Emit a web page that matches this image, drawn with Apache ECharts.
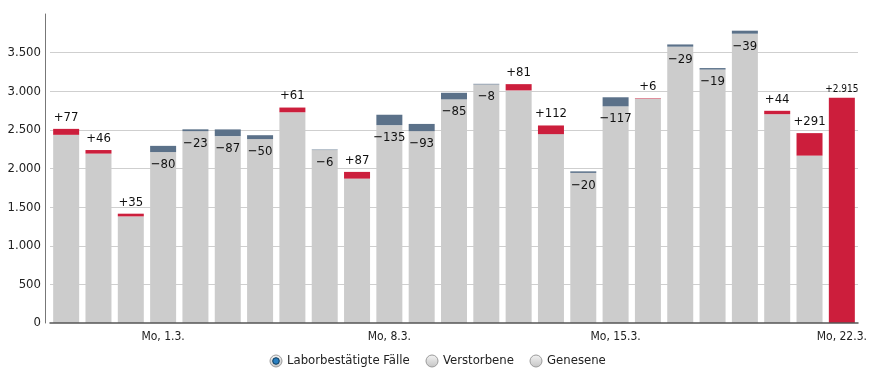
<!DOCTYPE html>
<html>
<head>
<meta charset="utf-8">
<script src="https://cdn.jsdelivr.net/npm/echarts@6/dist/echarts.min.js"></script>
<style>
html,body{margin:0;padding:0;background:#fff;}
#chart{width:870px;height:377px;}
</style>
</head>
<body>
<div id="chart"></div>
<script>
var categories = ["Fr, 26.2.","Sa, 27.2.","So, 28.2.","Mo, 1.3.","Di, 2.3.","Mi, 3.3.","Do, 4.3.","Fr, 5.3.","Sa, 6.3.","So, 7.3.","Mo, 8.3.","Di, 9.3.","Mi, 10.3.","Do, 11.3.","Fr, 12.3.","Sa, 13.3.","So, 14.3.","Mo, 15.3.","Di, 16.3.","Mi, 17.3.","Do, 18.3.","Fr, 19.3.","Sa, 20.3.","So, 21.3.","Mo, 22.3."];
// grey part of each bar (current value without the day's increase)
var baseValues = [2436,2193,1380,2213,2484,2419,2381,2728,2239,1869,2561,2484,2895,3088,3011,2445,1943,2805,2904,3577,3281,3745,2703,2167,0];
// day's change (positive = red on top, negative = blue-grey on top)
var changes = [77,46,35,-80,-23,-87,-50,61,-6,87,-135,-93,-85,-8,81,112,-20,-117,6,-29,-19,-39,44,291,2915];
var yTicks = [0,500,1000,1500,2000,2500,3000,3500];

var FONT = '"Liberation Sans Narrow","DejaVu Sans Condensed","Roboto Condensed","Arial Narrow",sans-serif';
function fmt(n){ return String(n).replace(/\B(?=(\d{3})+(?!\d))/g, '.'); }
function signed(d){ return (d >= 0 ? '+' : '\u2212') + fmt(Math.abs(d)); }

var greyData = baseValues.map(function(v, i){
  var d = changes[i];
  return {value: v, label: {show: d < 0, position: 'insideTop', distance: 6, formatter: signed(d)}};
});
var redData = changes.map(function(d, i){
  var big = d >= 1000;
  return {value: d > 0 ? d : 0, label: {show: d > 0, position: 'top', distance: big ? 3 : 5,
    fontSize: big ? 10 : 13, formatter: signed(d)}};
});
var blueData = changes.map(function(d){ return d < 0 ? -d : 0; });

var chart = echarts.init(document.getElementById('chart'), null, {renderer: 'canvas'});
function radio(cx, cy, checked){
  var els = [{type:'circle', shape:{cx:cx, cy:cy, r:6},
    style:{fill:new echarts.graphic.LinearGradient(0,0,0,1,[{offset:0,color:'#f4f4f4'},{offset:1,color:'#c4c4c4'}]), stroke:'#9a9a9a', lineWidth:1}}];
  if (checked) {
    els.push({type:'circle', shape:{cx:cx, cy:cy, r:3.3}, style:{fill:'#2a7fc0', stroke:'#0d3a5a', lineWidth:1}});
  }
  return els;
}
var legendItems = [["Laborbestätigte Fälle", 276, true],["Verstorbene", 432, false],["Genesene", 536, false]];
var graphics = [];
legendItems.forEach(function(it){
  radio(it[1], 361, it[2]).forEach(function(e){ graphics.push(e); });
  graphics.push({type:'text', x: it[1] + 11, y: 361, style:{text: it[0], fill:'#222', font: '13px ' + FONT, textVerticalAlign:'middle'}});
});

chart.setOption({
  animation: false,
  textStyle: {fontFamily: FONT},
  grid: {left: 50, right: 12, top: 14, bottom: 54, containLabel: false},
  xAxis: {
    type: 'category', data: categories, z: 5,
    axisLine: {show: true, lineStyle: {color: '#555', width: 1.5}},
    axisTick: {show: false},
    axisLabel: {interval: function(i){ return i % 7 === 3; }, color: '#222', fontSize: 12, margin: 8, fontFamily: FONT}
  },
  yAxis: {
    type: 'value', min: 0, max: 4000, interval: 500, offset: 5,
    axisLine: {show: true, lineStyle: {color: '#777', width: 1}},
    axisTick: {show: false},
    splitLine: {show: true, showMaxLine: false, showMinLine: false, lineStyle: {color: '#cfcfcf', width: 1}},
    axisLabel: {showMaxLabel: false, color: '#222', fontSize: 13, margin: 4, fontFamily: FONT,
      formatter: function(v){ return yTicks.indexOf(v) >= 0 ? fmt(v) : ''; }}
  },
  series: [
    {type: 'bar', name: 'Basis', stack: 's', data: greyData, barWidth: 26,
     itemStyle: {color: '#cccccc'}, label: {color: '#111', fontSize: 13, fontFamily: FONT}},
    {type: 'bar', name: 'Zunahme', stack: 's', data: redData, barWidth: 26,
     itemStyle: {color: '#cc1e3c'}, label: {color: '#111', fontFamily: FONT}},
    {type: 'bar', name: 'Abnahme', stack: 's', data: blueData, barWidth: 26,
     itemStyle: {color: '#5b7189'}}
  ],
  graphic: graphics
});
</script>
</body>
</html>
